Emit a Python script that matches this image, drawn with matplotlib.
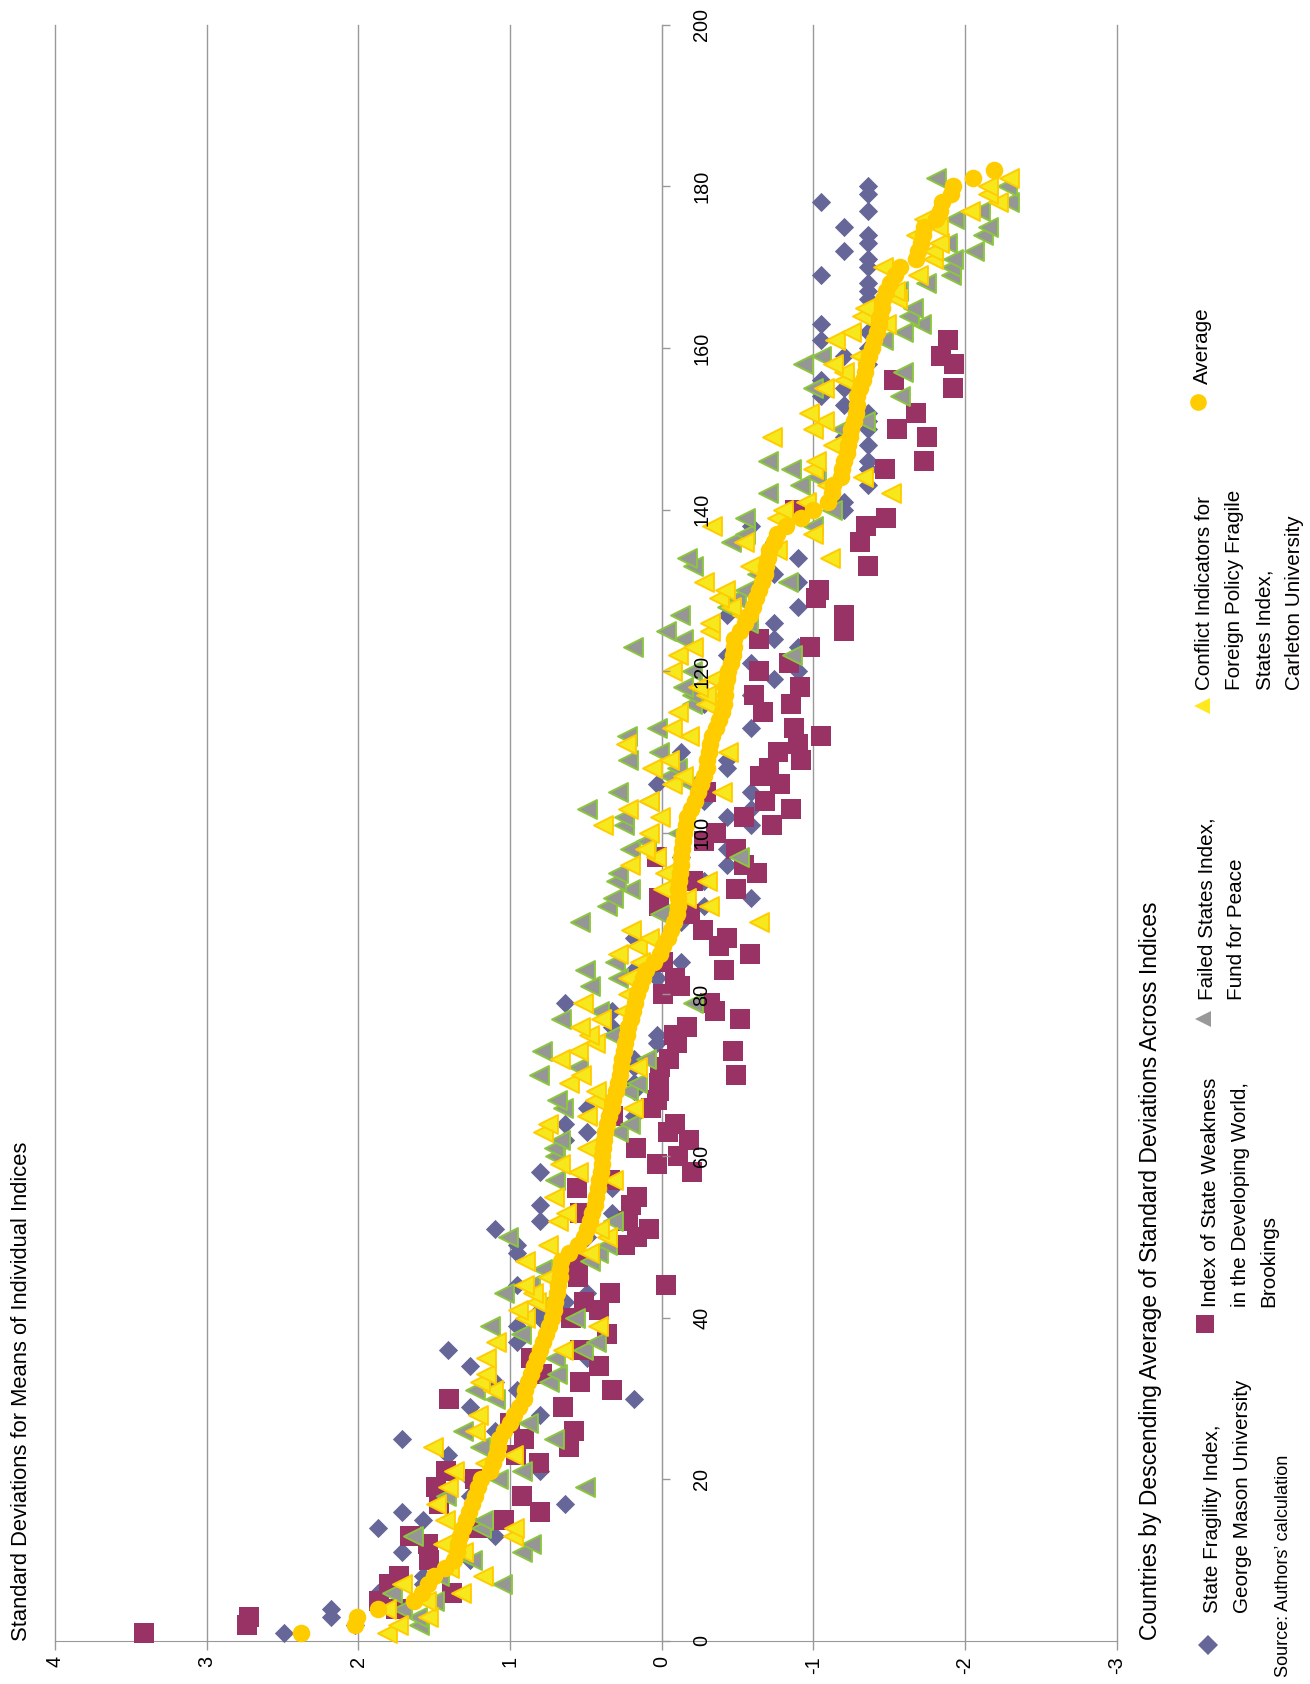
import matplotlib as mpl
mpl.use('Agg')
from matplotlib import pyplot as plt
from matplotlib.lines import Line2D

plt.rcParams['font.family'] = ['Liberation Sans', 'DejaVu Sans']
plt.rcParams['axes.unicode_minus'] = False

# State Fragility Index (values come in steps, it is an integer score)
sfi_rank = [1, 2, 3, 4, 6, 7, 8, 10, 11, 13, 14, 15, 16, 17, 18, 20, 21, 23, 25, 26, 28, 29, 30, 31, 32, 34, 35, 36, 37, 39,
            40, 41, 42, 43, 44, 48, 49, 50, 51, 52, 53, 54, 56, 58, 62, 63, 64, 65, 66, 67, 68, 69, 71, 72, 74, 75, 76, 78, 79, 82,
            83, 84, 87, 89, 91, 92, 94, 96, 97, 98, 101, 102, 103, 104, 105, 106, 108, 109, 110, 113, 116, 117, 119, 120, 121, 122, 123, 124, 126, 127,
            128, 131, 132, 134, 136, 138, 140, 141, 143, 145, 146, 148, 149, 150, 151, 152, 153, 154, 155, 156, 158, 159, 160, 161, 162, 163, 165, 166, 167, 168,
            169, 170, 171, 172, 173, 174, 175, 177, 178, 179, 180]
sfi_val = [2.49, 2.02, 2.18, 2.18, 1.87, 1.57, 1.57, 1.26, 1.71, 1.10, 1.87, 1.57, 1.71, 0.64, 1.26, 1.26, 0.80, 1.41, 1.71, 1.10, 0.80, 1.26, 0.18, 0.95, 1.10, 1.26, 0.49, 1.41, 0.95, 0.95,
           0.80, 0.80, 0.64, 0.49, 0.95, 0.95, 0.95, 0.49, 1.10, 0.80, 0.33, 0.80, 0.33, 0.80, 0.64, 0.49, 0.64, 0.18, 0.49, 0.03, 0.18, 0.18, 0.18, 0.18, 0.03, 0.03, 0.33, 0.33, 0.64, 0.03,
           0.18, -0.13, 0.18, -0.13, -0.28, -0.59, -0.28, -0.43, -0.13, -0.43, -0.59, -0.43, -0.59, -0.28, -0.59, 0.03, -0.43, -0.43, -0.13, -0.59, -0.28, -0.59, -0.74, -0.90, -0.59, -0.43, -0.90, -0.74, -0.74, -0.43,
           -0.90, -0.90, -0.74, -0.90, -0.74, -0.59, -1.20, -1.20, -1.36, -1.36, -1.36, -1.36, -1.20, -1.36, -1.36, -1.36, -1.20, -1.05, -1.20, -1.05, -1.36, -1.20, -1.36, -1.05, -1.36, -1.05, -1.36, -1.36, -1.36, -1.36,
           -1.05, -1.36, -1.36, -1.20, -1.36, -1.36, -1.20, -1.36, -1.05, -1.36, -1.36]

# Index of State Weakness in the Developing World
iswdw_rank = [1, 2, 3, 4, 5, 6, 7, 8, 10, 12, 13, 14, 15, 16, 17, 18, 19, 20, 21, 22, 23, 24, 25, 26, 27, 29, 30, 31, 32, 33,
              34, 35, 36, 38, 40, 41, 42, 43, 44, 45, 46, 47, 49, 50, 51, 52, 53, 54, 55, 56, 57, 58, 59, 60, 61, 62, 63, 64, 65, 66,
              67, 68, 69, 70, 71, 72, 73, 74, 75, 76, 77, 78, 79, 80, 81, 82, 83, 84, 85, 86, 87, 88, 90, 91, 92, 93, 94, 95, 96, 97,
              98, 99, 100, 101, 102, 103, 104, 105, 106, 107, 108, 109, 110, 111, 112, 113, 115, 116, 117, 118, 120, 121, 123, 124, 125, 127, 129, 130, 133, 136,
              138, 139, 140, 145, 146, 149, 150, 152, 155, 156, 158, 159, 161]
iswdw_val = [3.41, 2.73, 2.72, 1.75, 1.86, 1.38, 1.80, 1.73, 1.53, 1.54, 1.66, 1.22, 1.04, 0.80, 1.47, 0.92, 1.49, 1.23, 1.42, 0.81, 0.96, 0.61, 0.91, 0.58, 1.00, 0.65, 1.40, 0.33, 0.54, 0.79,
             0.41, 0.86, 0.54, 0.36, 0.60, 0.41, 0.51, 0.34, -0.03, 0.55, 0.57, 0.55, 0.24, 0.16, 0.08, 0.22, 0.54, 0.20, 0.16, 0.56, 0.34, -0.20, 0.03, -0.11, 0.17, -0.18, -0.04, -0.09, 0.32, 0.07,
             0.03, 0.02, 0.015, -0.49, 0.01, -0.05, -0.47, -0.10, -0.08, -0.17, -0.52, -0.35, -0.32, -0.01, -0.12, -0.09, -0.41, -0.01, -0.58, -0.38, -0.43, -0.27, -0.19, 0.02, 0.02, -0.49, -0.21, -0.63, -0.54, 0.03,
             -0.49, -0.28, -0.36, -0.73, -0.54, -0.85, -0.68, -0.29, -0.78, -0.65, -0.71, -0.92, -0.77, -0.90, -1.05, -0.87, -0.67, -0.85, -0.61, -0.91, -0.64, -0.84, -0.98, -0.64, -1.20, -1.20, -1.02, -1.04, -1.36, -1.31,
             -1.35, -1.48, -0.88, -1.47, -1.73, -1.75, -1.55, -1.68, -1.92, -1.53, -1.93, -1.84, -1.89]

# Failed States Index
fsi_rank = [2, 3, 4, 5, 6, 7, 8, 10, 11, 12, 13, 14, 15, 18, 19, 20, 21, 24, 25, 26, 27, 30, 31, 32, 33, 35, 36, 37, 38, 39,
            40, 42, 43, 44, 46, 47, 48, 49, 50, 52, 57, 60, 61, 62, 63, 64, 66, 67, 68, 69, 70, 71, 72, 73, 75, 77, 78, 79, 81, 82,
            83, 84, 89, 90, 91, 92, 93, 94, 95, 97, 98, 99, 100, 101, 102, 103, 104, 105, 106, 107, 108, 109, 110, 112, 113, 116, 117, 118, 120, 122,
            123, 124, 125, 126, 127, 128, 129, 130, 131, 132, 133, 134, 136, 137, 138, 139, 140, 142, 143, 144, 145, 146, 148, 150, 151, 154, 155, 157, 158, 159,
            161, 162, 163, 164, 165, 167, 168, 169, 170, 171, 172, 173, 174, 175, 176, 177, 178, 180, 181]
fsi_val = [1.60, 1.61, 1.71, 1.50, 1.78, 1.05, 1.47, 1.25, 0.92, 0.86, 1.64, 1.19, 1.18, 1.42, 0.505, 1.08, 0.92, 1.20, 0.71, 1.31, 0.88, 1.10, 1.23, 0.74, 0.69, 0.70, 0.52, 0.43, 0.93, 1.13,
           0.57, 0.75, 1.04, 0.87, 0.79, 0.47, 0.42, 0.36, 1.01, 0.32, 0.70, 0.70, 0.71, 0.67, 0.29, 0.21, 0.65, 0.69, 0.22, 0.16, 0.81, 0.55, 0.10, 0.79, 0.33, 0.66, 0.41, -0.21, 0.47, 0.29,
           0.505, 0.31, 0.54, 0.01, 0.36, 0.32, 0.21, 0.30, 0.29, -0.51, 0.21, 0.10, -0.11, 0.25, 0.25, 0.495, 0.08, 0.29, -0.19, -0.05, -0.10, 0.22, 0.02, 0.23, 0.03, -0.20, -0.20, -0.14, -0.20, -0.86,
           0.19, -0.14, -0.03, -0.57, -0.12, -0.43, -0.49, -0.55, -0.835, -0.63, -0.21, -0.165, -0.46, -0.55, -1.00, -0.55, -1.12, -0.70, -0.91, -1.02, -0.85, -0.70, -1.14, -1.18, -1.34, -1.57, -1.00, -1.59, -0.93, -1.05,
           -1.46, -1.59, -1.71, -1.63, -1.66, -1.56, -1.74, -1.91, -1.91, -1.92, -2.06, -1.88, -2.12, -2.15, -1.93, -2.10, -2.29, -2.28, -1.81]

# Conflict Indicators for Foreign Policy Fragile States Index
cifp_rank = [1, 2, 3, 4, 5, 6, 7, 8, 9, 11, 12, 13, 14, 15, 17, 19, 21, 22, 23, 24, 26, 28, 31, 32, 33, 35, 36, 37, 39, 40,
             41, 42, 43, 44, 45, 47, 48, 49, 50, 51, 52, 53, 55, 57, 58, 59, 61, 63, 64, 65, 66, 67, 68, 69, 70, 71, 72, 73, 74, 75,
             76, 77, 78, 79, 80, 82, 84, 85, 86, 87, 88, 89, 91, 92, 93, 94, 95, 96, 97, 98, 100, 101, 102, 103, 104, 105, 106, 107, 108, 109,
             110, 111, 112, 113, 115, 116, 117, 118, 119, 120, 122, 123, 125, 126, 127, 128, 129, 130, 131, 133, 134, 135, 136, 137, 138, 139, 140, 141, 142, 143,
             144, 145, 146, 148, 149, 150, 151, 152, 155, 156, 157, 158, 159, 161, 162, 163, 164, 165, 166, 167, 169, 170, 171, 172, 173, 174, 175, 176, 177, 178,
             179, 180, 181]
cifp_val = [1.81, 1.74, 1.54, 1.82, 1.55, 1.32, 1.71, 1.18, 1.40, 1.31, 1.44, 0.98, 0.97, 1.43, 1.49, 1.41, 1.37, 1.165, 0.98, 1.505, 1.23, 1.21, 1.11, 1.20, 1.155, 1.155, 0.65, 1.09, 0.42, 0.90,
            0.945, 0.83, 0.85, 0.91, 0.75, 0.90, 0.48, 0.75, 0.36, 0.41, 0.68, 0.63, 0.71, 0.32, 0.55, 0.67, 0.49, 0.78, 0.75, 0.495, 0.19, 0.44, 0.43, 0.61, 0.53, 0.165, 0.67, 0.55, 0.44, 0.48,
            0.54, 0.40, 0.25, 0.52, 0.22, 0.22, 0.14, 0.29, 0.16, 0.08, 0.20, -0.64, -0.31, -0.16, -0.01, -0.30, -0.02, 0.21, 0.04, 0.11, 0.08, 0.385, 0.01, 0.22, 0.08, -0.40, -0.07, -0.14, 0.06, -0.05,
            -0.44, 0.235, -0.18, -0.07, -0.11, -0.29, -0.29, -0.24, -0.34, -0.07, -0.11, -0.21, -0.32, -0.32, -0.53, -0.46, -0.38, -0.42, -0.28, -0.58, -1.11, -0.76, -0.54, -1.00, -0.33, -0.76, -0.80, -0.95, -1.51, -1.09,
            -1.33, -1.00, -1.02, -1.13, -0.73, -1.00, -1.07, -0.97, -1.07, -1.20, -1.20, -1.13, -1.31, -1.14, -1.25, -1.48, -1.32, -1.34, -1.55, -1.54, -1.69, -1.46, -1.79, -1.79, -1.83, -1.68, -1.82, -1.73, -2.03, -2.22,
            -2.15, -2.15, -2.29]

# Average across the indices, one value per country rank 1..182
avg_val = [2.38, 2.02, 2.01, 1.87, 1.63, 1.58, 1.54, 1.50, 1.43, 1.37, 1.35, 1.34, 1.33, 1.31, 1.29, 1.27, 1.25, 1.23, 1.21, 1.19,
           1.13, 1.11, 1.09, 1.08, 1.07, 1.04, 1.00, 0.97, 0.94, 0.91, 0.90, 0.88, 0.86, 0.84, 0.82, 0.80, 0.78, 0.76, 0.74, 0.725,
           0.71, 0.70, 0.69, 0.68, 0.67, 0.67, 0.66, 0.61, 0.55, 0.51, 0.49, 0.47, 0.46, 0.44, 0.43, 0.42, 0.41, 0.40, 0.39, 0.39,
           0.385, 0.38, 0.37, 0.36, 0.35, 0.33, 0.32, 0.30, 0.29, 0.275, 0.27, 0.26, 0.25, 0.24, 0.23, 0.22, 0.20, 0.19, 0.175, 0.165,
           0.14, 0.12, 0.10, 0.05, 0.01, -0.01, -0.04, -0.065, -0.08, -0.10, -0.11, -0.11, -0.11, -0.115, -0.12, -0.125, -0.13, -0.135, -0.14, -0.145,
           -0.16, -0.17, -0.195, -0.22, -0.24, -0.26, -0.28, -0.30, -0.30, -0.31, -0.32, -0.33, -0.36, -0.38, -0.40, -0.41, -0.415, -0.42, -0.43, -0.44,
           -0.46, -0.47, -0.475, -0.48, -0.52, -0.55, -0.58, -0.60, -0.62, -0.64, -0.66, -0.68, -0.69, -0.70, -0.71, -0.74, -0.76, -0.82, -0.92, -1.00,
           -1.10, -1.12, -1.13, -1.18, -1.19, -1.20, -1.22, -1.23, -1.24, -1.25, -1.27, -1.28, -1.285, -1.29, -1.31, -1.33, -1.34, -1.35, -1.37, -1.385,
           -1.40, -1.42, -1.43, -1.44, -1.45, -1.46, -1.48, -1.505, -1.54, -1.57, -1.68, -1.69, -1.71, -1.725, -1.73, -1.81, -1.835, -1.85, -1.91, -1.92,
           -2.05, -2.19]
avg_rank = list(range(1, len(avg_val) + 1))

sd_ticks = [4, 3, 2, 1, 0, -1, -2, -3]
rank_ticks = [0, 20, 40, 60, 80, 100, 120, 140, 160, 180, 200]

W, H = 1310, 1684
PURPLE = '#666699'
MAROON = '#993366'
GREY = '#969696'
GREEN = '#8CC63F'
YELLOW = '#F7E81E'
GOLD = '#FFCC00'
AXCOL = '#999999'

fig = plt.figure(figsize=(W / 100, H / 100), dpi=100)
ax = fig.add_axes([54.8 / W, 1 - 1641 / H, (1116.7 - 54.8) / W, (1641 - 24.7) / H])
ax.set_xlim(4, -3)
ax.set_ylim(0, 200)
ax.patch.set_visible(False)

for sd in sd_ticks:
    ax.axvline(sd, color=AXCOL, lw=1.0, zorder=0, clip_on=False)

ax.scatter(sfi_val, sfi_rank, marker='D', s=96, color=PURPLE, linewidths=0, zorder=1.1, clip_on=False)
ax.scatter(iswdw_val, iswdw_rank, marker='s', s=200, color=MAROON, linewidths=0, zorder=1.2, clip_on=False)
ax.scatter(fsi_val, fsi_rank, marker='<', s=185, facecolor=GREY, edgecolor=GREEN, linewidths=1.4, zorder=1.3, clip_on=False)
ax.scatter(cifp_val, cifp_rank, marker='<', s=185, facecolor=YELLOW, edgecolor=GOLD, linewidths=1.4, zorder=1.4, clip_on=False)
ax.scatter(avg_val, avg_rank, marker='o', s=160, color=GOLD, linewidths=0, zorder=1.5, clip_on=False)

# the original was rotated on the page: rank axis crosses at 0, ticks to the right
for side in ['top', 'left']:
    ax.spines[side].set_visible(False)
ax.spines['right'].set_position(('data', 0))
ax.spines['right'].set_color(AXCOL)
ax.spines['right'].set_zorder(0.5)
ax.spines['bottom'].set_color(AXCOL)
ax.spines['bottom'].set_zorder(0.5)

ax.set_xticks(sd_ticks)
ax.set_xticklabels([str(t) for t in sd_ticks], rotation=90, fontsize=14.3, ha='center', va='top')
ax.tick_params(axis='x', length=6.5, width=1.0, color=AXCOL, pad=4.5)
ax.yaxis.tick_right()
ax.set_yticks(rank_ticks)
ax.set_yticklabels([str(t) for t in rank_ticks], rotation=90, fontsize=14.3, va='center', ha='left')
ax.tick_params(axis='y', length=6, width=1.0, color=AXCOL, pad=16)


def txt(xp, yp, s, size=14.9):
    fig.text(xp / W, 1 - yp / H, s, rotation=90, ha='center', va='bottom', fontsize=size, color='black')


txt(22, 1641, 'Standard Deviations for Means of Individual Indices', 15.8)
txt(1151, 1640, 'Countries by Descending Average of Standard Deviations Across Indices', 16.5)
txt(1284, 1677, 'Source: Authors\u2019 calculation', 13.1)

txt(1213, 1613, 'State Fragility Index,')
txt(1242, 1613, 'George Mason University')
txt(1210, 1307, 'Index of State Weakness')
txt(1240, 1307, 'in the Developing World,')
txt(1269, 1307, 'Brookings')
txt(1207, 1000, 'Failed States Index,')
txt(1237, 1000, 'Fund for Peace')
txt(1205, 690, 'Conflict Indicators for')
txt(1235, 690, 'Foreign Policy Fragile')
txt(1265, 690, 'States Index,')
txt(1294, 690, 'Carleton University')
txt(1202, 384, 'Average')

legend_marks = [(1208, 1645, 'D', 10.5, PURPLE), (1205, 1324, 's', 13, MAROON), (1203, 1019, '<', 12, '#999999'),
                (1202, 706, '<', 12, '#FFE81E'), (1198, 402, 'o', 12, GOLD)]
for xp, yp, mk, ms, col in legend_marks:
    fig.add_artist(Line2D([xp / W], [1 - yp / H], marker=mk, markersize=ms, color=col, markeredgewidth=0,
                          linestyle='none', transform=fig.transFigure))

fig.savefig('out.png', dpi=100, facecolor='w')
